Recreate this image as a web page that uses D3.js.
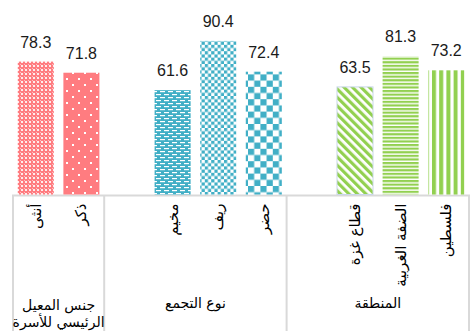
<!DOCTYPE html>
<html><head><meta charset="utf-8">
<script src="https://cdn.jsdelivr.net/npm/d3@7"></script>
<style>html,body{margin:0;padding:0;background:#fff;}svg{display:block;}</style>
</head><body>
<svg id="chart" width="470" height="331"></svg>
<script>
// ---- data ----
const groups = ["جنس المعيل\nالرئيسي للأسرة", "نوع التجمع", "المنطقة"];
const categories = ["أنثى", "ذكر", "مخيم", "ريف", "حضر", "قطاع غزة", "الضفة الغربية", "فلسطين"];
const categoryGroup = [0, 0, 1, 1, 1, 2, 2, 2];
const values = [78.3, 71.8, 61.6, 90.4, 72.4, 63.5, 81.3, 73.2];
const valueLabels = ["78.3", "71.8", "61.6", "90.4", "72.4", "63.5", "81.3", "73.2"];

// ---- layout ----
const svg = d3.select("#chart");
const W = 470, H = 331;
const left = 13, right = 469, baseY = 195.5, topY = 24.5;
const pink = "#FF7C80", teal = "#41AFC6", green = "#92D050";

// slots: a spacer slot before each group except the first
const slots = [];
categories.forEach((c, i) => {
  const g = categoryGroup[i];
  if (i > 0 && categoryGroup[i - 1] !== g) slots.push("__gap" + g);
  slots.push(c);
});

const x = d3.scaleBand().domain(slots).range([left, right]).paddingInner(0.21).paddingOuter(0.105);
const y = d3.scaleLinear().domain([0, 100]).range([baseY, topY]);
const step = x.step();

// ---- patterns ----
const defs = svg.append("defs");
function pat(id, w, h, bg, draw, transform) {
  const p = defs.append("pattern").attr("id", id).attr("patternUnits", "userSpaceOnUse")
    .attr("width", w).attr("height", h);
  if (transform) p.attr("patternTransform", transform);
  p.append("rect").attr("width", w).attr("height", h).attr("fill", bg);
  draw(p);
}
// أنثى: pink trellis/grid
pat("p0", 4, 4, pink, p => {
  p.append("rect").attr("x", 1).attr("y", 1).attr("width", 2).attr("height", 2).attr("fill", "#fff").attr("opacity", 0.85);
  p.append("rect").attr("x", 0).attr("y", 0).attr("width", 1).attr("height", 1).attr("fill", "#fff").attr("opacity", 0.5);
});
// ذكر: pink sparse dots
pat("p1", 12, 12, pink, p => {
  p.append("rect").attr("x", 0).attr("y", 0).attr("width", 2).attr("height", 2).attr("fill", "#fff");
  p.append("rect").attr("x", 6).attr("y", 6).attr("width", 2).attr("height", 2).attr("fill", "#fff");
});
// مخيم: teal with white horizontal dashes
pat("p2", 8, 6, teal, p => {
  p.append("rect").attr("x", 0).attr("y", 1).attr("width", 5).attr("height", 1.2).attr("fill", "#fff");
  p.append("rect").attr("x", 4).attr("y", 4).attr("width", 4).attr("height", 1.2).attr("fill", "#fff");
  p.append("rect").attr("x", 0).attr("y", 4).attr("width", 1).attr("height", 1.2).attr("fill", "#fff");
});
// ريف: small checkerboard
pat("p3", 6.4, 6.4, "#fff", p => {
  p.append("rect").attr("x", 0).attr("y", 0).attr("width", 3.2).attr("height", 3.2).attr("fill", teal);
  p.append("rect").attr("x", 3.2).attr("y", 3.2).attr("width", 3.2).attr("height", 3.2).attr("fill", teal);
});
// حضر: large checkerboard
pat("p4", 12.4, 12.4, "#fff", p => {
  p.append("rect").attr("x", 0).attr("y", 0).attr("width", 6.2).attr("height", 6.2).attr("fill", teal);
  p.append("rect").attr("x", 6.2).attr("y", 6.2).attr("width", 6.2).attr("height", 6.2).attr("fill", teal);
});
// قطاع غزة: wide diagonal stripes
pat("p5", 6, 6, "#fff", p => {
  p.append("rect").attr("x", 0).attr("y", 0).attr("width", 3.2).attr("height", 6).attr("fill", green);
}, "rotate(-45)");
// الضفة الغربية: horizontal stripes
pat("p6", 4, 3.6, "#fff", p => {
  p.append("rect").attr("x", 0).attr("y", 0).attr("width", 4).attr("height", 2.2).attr("fill", green);
});
// فلسطين: vertical stripes
pat("p7", 7.2, 4, "#fff", p => {
  p.append("rect").attr("x", 0).attr("y", 0).attr("width", 4).attr("height", 4).attr("fill", green);
});

// ---- axis lines ----
const gridColor = "#D9D9D9";
svg.append("line").attr("x1", left - 1).attr("x2", right + 1).attr("y1", baseY).attr("y2", baseY)
  .attr("stroke", gridColor).attr("stroke-width", 2);

// group boundaries
const groupStart = groups.map((g, gi) => slots.findIndex(s => s === categories[categoryGroup.indexOf(gi)]) - (gi > 0 ? 1 : 0));
const bounds = groupStart.concat([slots.length]);
bounds.forEach(si => {
  const bx = left + step * si;
  svg.append("line").attr("x1", bx).attr("x2", bx).attr("y1", baseY).attr("y2", H)
    .attr("stroke", gridColor).attr("stroke-width", 2);
});

// ---- bars ----
svg.append("g").selectAll("rect").data(categories).join("rect")
  .attr("x", d => x(d))
  .attr("y", (d, i) => y(values[i]))
  .attr("width", x.bandwidth())
  .attr("height", (d, i) => baseY - 1 - y(values[i]))
  .attr("fill", (d, i) => `url(#p${i})`)
  .attr("stroke", (d, i) => i === 5 ? "#C9D6EA" : "none")
  .attr("stroke-width", 1);

// ---- value labels ----
svg.append("g").selectAll("text").data(categories).join("text")
  .attr("x", d => x(d) + x.bandwidth() / 2)
  .attr("y", (d, i) => y(values[i]) - 14)
  .attr("text-anchor", "middle")
  .attr("font-family", "Liberation Sans, Arial, sans-serif")
  .attr("font-size", 16)
  .attr("fill", "#1a1a1a")
  .text((d, i) => valueLabels[i]);

// ---- category labels (rotated) ----
svg.append("g").selectAll("text").data(categories).join("text")
  .attr("transform", d => `translate(${x(d) + x.bandwidth() / 2 + 5},${baseY + 8}) rotate(-90)`)
  .attr("text-anchor", "end")
  .attr("font-family", "DejaVu Sans, sans-serif")
  .attr("font-size", 15)
  .attr("fill", "#000")
  .text(d => d);

// ---- group labels ----
groups.forEach((g, gi) => {
  const cx = left + step * (bounds[gi] + bounds[gi + 1]) / 2;
  const lines = g.split("\n");
  const t = svg.append("text").attr("text-anchor", "middle")
    .attr("font-family", "DejaVu Sans, sans-serif").attr("font-size", 14).attr("fill", "#000");
  lines.forEach((ln, li) => {
    t.append("tspan").attr("x", cx).attr("y", (lines.length > 1 ? 310 : 308) + li * 17).text(ln);
  });
});
</script>
</body></html>
